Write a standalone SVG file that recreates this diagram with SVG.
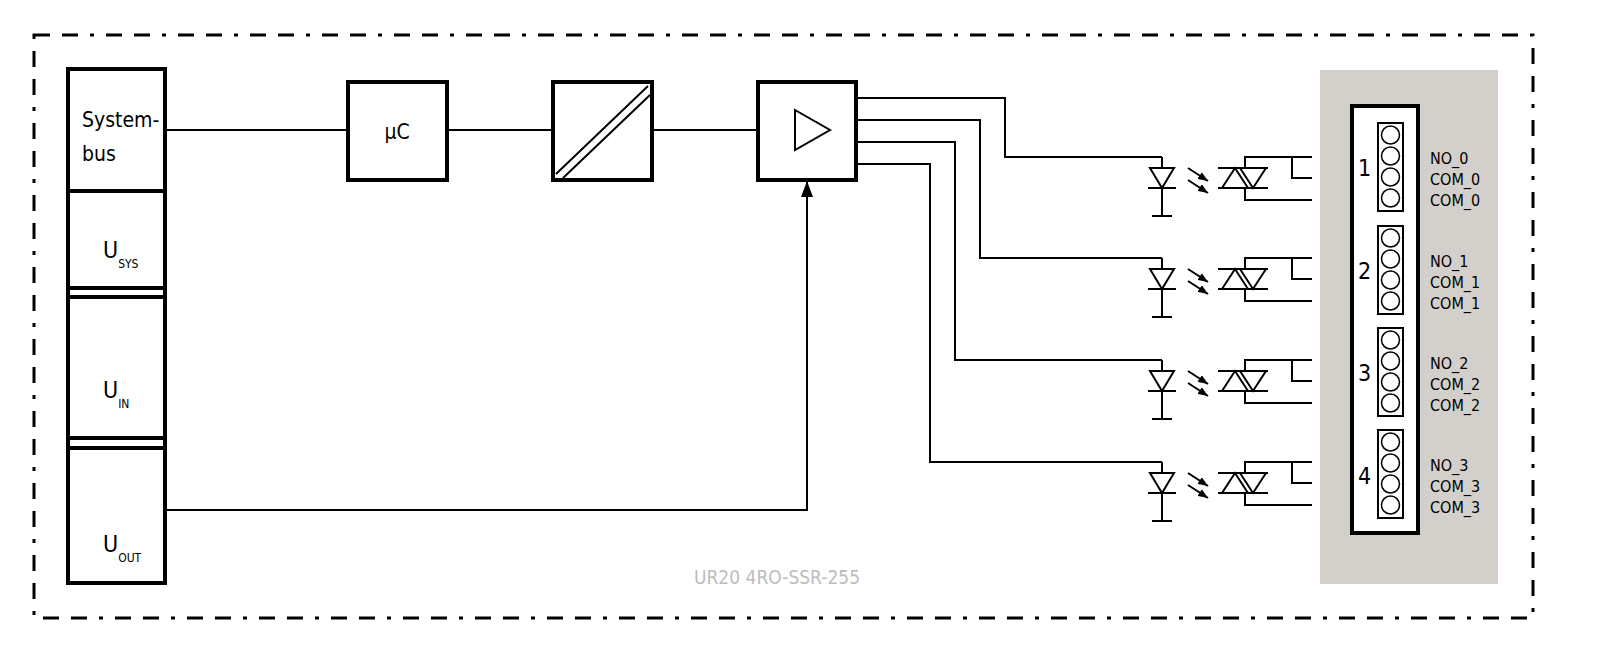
<svg xmlns="http://www.w3.org/2000/svg" width="1600" height="667" viewBox="0 0 1600 667">
<defs>
<style>
.box{fill:#fff;stroke:#000;stroke-width:4}
.w{fill:none;stroke:#000;stroke-width:2}
.t{font-family:"Liberation Sans Narrow","DejaVu Sans Condensed","Liberation Sans",sans-serif;fill:#000}
</style>
<marker id="ah" markerWidth="16" markerHeight="12" refX="15" refY="6" orient="auto" markerUnits="userSpaceOnUse" viewBox="0 0 16 12"><path d="M0,0 L16,6 L0,12 Z" fill="#000"/></marker>
<marker id="sa" markerWidth="10" markerHeight="8" refX="10" refY="4" orient="auto" markerUnits="userSpaceOnUse" viewBox="0 0 10 8"><path d="M0,0 L10,4 L0,8 Z" fill="#000"/></marker>
<g id="chan">
  <path class="w" d="M1162,157 V168"/>
  <path d="M1150,168 H1174 L1162,188 Z" fill="#fff" stroke="#000" stroke-width="2"/>
  <path class="w" d="M1148,188 H1176 M1162,188 V216 M1152,216 H1172"/>
  <path class="w" d="M1188,168 L1208,181" marker-end="url(#sa)"/>
  <path class="w" d="M1188,180 L1208,193" marker-end="url(#sa)"/>
  <path class="w" d="M1218,168 H1268 M1218,188 H1268"/>
  <path class="w" d="M1222,188 L1235,168 L1248,188 M1240,168 L1253,188 L1266,168"/>
  <path class="w" d="M1245,168 V157 H1312 M1292,157 V178 H1312 M1245,188 V200 H1312"/>
</g>
<g id="blk">
  <rect x="1378" y="123" width="25" height="88" fill="#fff" stroke="#000" stroke-width="2"/>
  <circle cx="1390.5" cy="135" r="9" fill="#fff" stroke="#000" stroke-width="1.5"/>
  <circle cx="1390.5" cy="156" r="9" fill="#fff" stroke="#000" stroke-width="1.5"/>
  <circle cx="1390.5" cy="177" r="9" fill="#fff" stroke="#000" stroke-width="1.5"/>
  <circle cx="1390.5" cy="198" r="9" fill="#fff" stroke="#000" stroke-width="1.5"/>
</g>
</defs>
<rect x="34" y="35" width="1499" height="583" fill="none" stroke="#000" stroke-width="3" stroke-dasharray="16 12 16 12 4 12"/>
<g id="connectors">
  <path class="w" d="M165,130 H348 M447,130 H553 M652,130 H758"/>
  <path class="w" d="M165,510 H807 V182" marker-end="url(#ah)"/>
  <path class="w" d="M856,98 H1005 V157 H1162 M856,120 H980 V258 H1162 M856,142 H955 V360 H1162 M856,164 H930 V462 H1162"/>
</g>
<g id="backplane">
  <rect class="box" x="68" y="69" width="97" height="514"/>
  <path d="M68,191 H165 M68,288 H165 M68,297 H165 M68,438 H165 M68,448 H165" stroke="#000" stroke-width="4"/>
  <text class="t" x="82" y="127" font-size="21">System-</text>
  <text class="t" x="82" y="161" font-size="21">bus</text>
  <text class="t" x="103" y="258" font-size="23">U<tspan font-size="12" dy="10">SYS</tspan></text>
  <text class="t" x="103" y="398" font-size="23">U<tspan font-size="12" dy="10">IN</tspan></text>
  <text class="t" x="103" y="552" font-size="23">U<tspan font-size="12" dy="10">OUT</tspan></text>
</g>
<g id="uc"><rect class="box" x="348" y="82" width="99" height="98"/><text class="t" x="397" y="139" font-size="21" text-anchor="middle">µC</text></g>
<g id="conv"><rect class="box" x="553" y="82" width="99" height="98"/><path class="w" d="M556,174 L648,86 M563,178 L650,95"/></g>
<g id="amp"><rect class="box" x="758" y="82" width="98" height="98"/><path d="M795,110 L830,130 L795,150 Z" fill="none" stroke="#000" stroke-width="2"/></g>
<g id="ch0"><use href="#chan"/></g>
<g id="ch1"><use href="#chan" y="101"/></g>
<g id="ch2"><use href="#chan" y="203"/></g>
<g id="ch3"><use href="#chan" y="305"/></g>
<g id="terminal">
  <rect x="1320" y="70" width="178" height="514" fill="#d3d0cb"/>
  <rect class="box" x="1352" y="106" width="66" height="427"/>
  <use href="#blk"/><use href="#blk" y="103"/><use href="#blk" y="205"/><use href="#blk" y="307"/>
  <g class="t" font-size="23"><text x="1358" y="176">1</text><text x="1358" y="279">2</text><text x="1358" y="381">3</text><text x="1358" y="484">4</text></g>
  <g class="t" font-size="16">
    <text x="1430" y="164">NO_0</text><text x="1430" y="185">COM_0</text><text x="1430" y="206">COM_0</text>
    <text x="1430" y="267">NO_1</text><text x="1430" y="288">COM_1</text><text x="1430" y="309">COM_1</text>
    <text x="1430" y="369">NO_2</text><text x="1430" y="390">COM_2</text><text x="1430" y="411">COM_2</text>
    <text x="1430" y="471">NO_3</text><text x="1430" y="492">COM_3</text><text x="1430" y="513">COM_3</text>
  </g>
</g>
<text class="t" x="777" y="584" font-size="19" text-anchor="middle" style="fill:#bdbdbd">UR20 4RO-SSR-255</text>
</svg>
